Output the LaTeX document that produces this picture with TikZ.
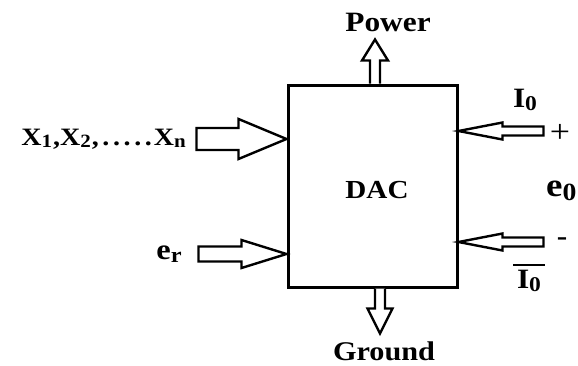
\documentclass[tikz,border=0pt]{standalone}
\usepackage{fontspec}
\setmainfont{Liberation Serif}[FakeStretch=1.12]
\newcommand\sbs[1]{\raisebox{-0.1em}{\scalebox{0.75}{#1}}}
\newcommand\dt{\hspace{3.6pt}.}
\begin{document}
\begin{tikzpicture}[x=1pt,y=-1pt,
  lbl/.style={inner sep=0pt, font=\bfseries},
  barrow/.style={draw=black, line width=2.4pt, fill=white, line join=miter},
  boxst/.style={draw=black, line width=3pt, minimum width=169pt, minimum height=202pt, inner sep=0pt}]
\useasboundingbox (0,0) rectangle (578,365);
% main box
\node[boxst] (dac) at (372.5,186) {};
\node[lbl, font=\fontsize{26}{26}\bfseries] (dactxt) at (377,190) {DAC};
% anchor points on the box
\coordinate (xin) at (dac.west |- 0,139);
\coordinate (erin) at (dac.west |- 0,254);
\coordinate (pw) at (375,0 |- dac.north);
\coordinate (gd) at (380,0 |- dac.south);
\coordinate (ip) at (dac.east |- 0,131);
\coordinate (im) at (dac.east |- 0,242);
% X arrow
\draw[barrow] (xin) -- ++(-48,-20) -- ++(0,9) -- ++(-42,0) -- ++(0,22) -- ++(42,0) -- ++(0,9) -- cycle;
% er arrow
\draw[barrow] (erin) -- ++(-45,-14) -- ++(0,6.5) -- ++(-43,0) -- ++(0,15) -- ++(43,0) -- ++(0,6.5) -- cycle;
% power arrow
\draw[barrow] (pw) ++(-5,0) -- ++(0,-23) -- ++(-8,0) -- ++(13,-21) -- ++(13,21) -- ++(-8,0) -- ++(0,23);
% ground arrow
\draw[barrow] (gd) ++(-5,0) -- ++(0,20) -- ++(-7.5,0) -- ++(12.5,25) -- ++(12.5,-25) -- ++(-7.5,0) -- ++(0,-20);
% I0 arrows (pointing into box)
\draw[barrow] (ip) -- ++(44,-8.5) -- ++(0,4) -- ++(41,0) -- ++(0,9) -- ++(-41,0) -- ++(0,4) -- cycle;
\draw[barrow] (im) -- ++(44,-8.5) -- ++(0,4) -- ++(41,0) -- ++(0,9) -- ++(-41,0) -- ++(0,4) -- cycle;
% labels
\node[lbl, font=\fontsize{25}{25}\bfseries, anchor=east] (xlbl) at (186,139) {X\sbs{1}\hspace{1pt},X\sbs{2}\hspace{1pt},\dt\dt\dt\dt\dt\hspace{2pt}X\sbs{n}};
\node[lbl, font=\fontsize{29}{29}\bfseries] (erlbl) at (169,254) {e\sbs{r}};
\node[lbl, font=\fontsize{28}{28}\bfseries] (pwlbl) at (388,22) {Power};
\node[lbl, font=\fontsize{27}{27}\bfseries] (gdlbl) at (384,351) {Ground};
\node[lbl, font=\fontsize{28}{28}\bfseries] (i0top) at (525,100) {I\sbs{0}};
\node[lbl, font=\fontsize{32}{32}\selectfont] (plus) at (560,133) {+};
\node[lbl, font=\fontsize{33}{33}\bfseries, anchor=west] (e0) at (546,191) {e\sbs{0}};
\node[lbl, font=\fontsize{28}{28}\bfseries] (minus) at (562,242) {-};
\node[lbl, font=\fontsize{28}{28}\bfseries] (i0bot) at (529,281) {I\sbs{0}};
\coordinate (bara) at (513,265);
\coordinate (barb) at (545,265);
\draw[line width=2.6pt] (bara) -- (barb);
\end{tikzpicture}
\end{document}
